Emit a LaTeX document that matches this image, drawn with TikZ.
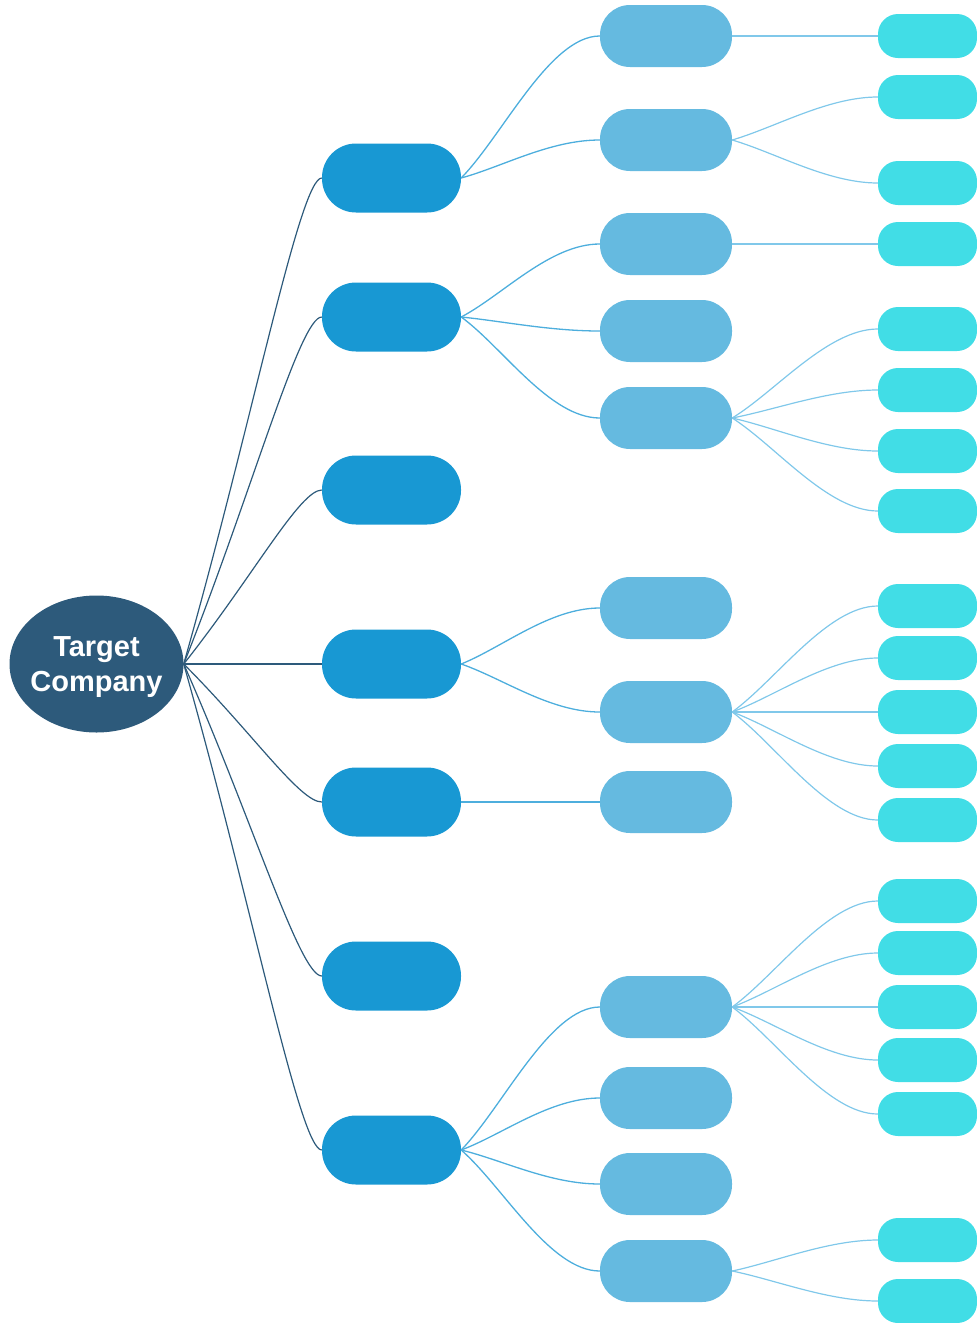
\documentclass[tikz,border=0pt]{standalone}
\usepackage{fontspec}
\setmainfont{Liberation Sans}
\usetikzlibrary{shapes.geometric,calc}

\definecolor{rootfill}{HTML}{2D5A7B}
\definecolor{lvlone}{HTML}{1898D3}
\definecolor{lvltwo}{HTML}{65BAE0}
\definecolor{lvlthree}{HTML}{41DDE6}
\definecolor{wireone}{HTML}{4DAEDD}
\definecolor{wiretwo}{HTML}{80C8EA}

\tikzset{
  rootnode/.style={ellipse, fill=rootfill, draw=none, minimum width=174pt,
    minimum height=137pt, inner sep=-10pt, text=white,
    font=\fontsize{29}{35}\selectfont\bfseries},
  topic/.style={rectangle, fill=lvlone, draw=none, minimum width=139pt,
    minimum height=69pt, rounded corners=34pt, inner sep=0pt},
  subtopic/.style={rectangle, fill=lvltwo, draw=none, minimum width=132pt,
    minimum height=62pt, rounded corners=30pt, inner sep=0pt},
  leaf/.style={rectangle, fill=lvlthree, draw=none, minimum width=99pt,
    minimum height=44pt, rounded corners=20pt, inner sep=0pt},
  trunk/.style={draw=rootfill, line width=1.2pt,
    to path={.. controls ($(\tikztostart)!0.5!(\tikztotarget)$) and ($(\tikztotarget)+(-22,0)$) .. (\tikztotarget)}},
  branch/.style={draw=wireone, line width=1.3pt,
    to path={.. controls ($(\tikztostart)!0.3!(\tikztotarget)$) and ($(\tikztotarget)+(-50,0)$) .. (\tikztotarget)}},
  twig/.style={draw=wiretwo, line width=1.2pt,
    to path={.. controls ($(\tikztostart)!0.3!(\tikztotarget)$) and ($(\tikztotarget)+(-50,0)$) .. (\tikztotarget)}},
}

\begin{document}
\begin{tikzpicture}[x=1pt, y=-1pt]
\useasboundingbox (0,0) rectangle (977,1323);

% root
\node[rootnode] (root) at (96.5,664)
  {\raisebox{-3pt}[\height][\depth]{\begin{tabular}{@{}c@{}}Target\\Company\end{tabular}}};

% first level
\foreach \i/\y in {1/178, 2/317, 3/490, 4/664, 5/802, 6/976, 7/1150}
  \node[topic] (t\i) at (391.5,\y) {};

% second level
\foreach \i/\y in {1/36, 2/140, 3/244, 4/331, 5/418, 6/608, 7/712, 8/802,
                   9/1007, 10/1098, 11/1184, 12/1271}
  \node[subtopic] (s\i) at (666,\y) {};

% third level
\foreach \i/\y in {1/36, 2/97, 3/183, 4/244, 5/329, 6/390, 7/451, 8/511,
                   9/606, 10/658, 11/712, 12/766, 13/820,
                   14/901, 15/953, 16/1007, 17/1060, 18/1114,
                   19/1240, 20/1301}
  \node[leaf] (l\i) at (927.5,\y) {};

% root to first level
\foreach \i in {1,...,7}
  \draw[trunk] (root.east) to (t\i.west);

% first to second level
\foreach \a/\b in {1/1, 1/2, 2/3, 2/4, 2/5, 4/6, 4/7, 5/8, 7/9, 7/10, 7/11, 7/12}
  \draw[branch] (t\a.east) to (s\b.west);

% second to third level
\foreach \a/\b in {1/1, 2/2, 2/3, 3/4, 5/5, 5/6, 5/7, 5/8,
                   7/9, 7/10, 7/11, 7/12, 7/13,
                   9/14, 9/15, 9/16, 9/17, 9/18, 12/19, 12/20}
  \draw[twig] (s\a.east) to (l\b.west);
\end{tikzpicture}
\end{document}
